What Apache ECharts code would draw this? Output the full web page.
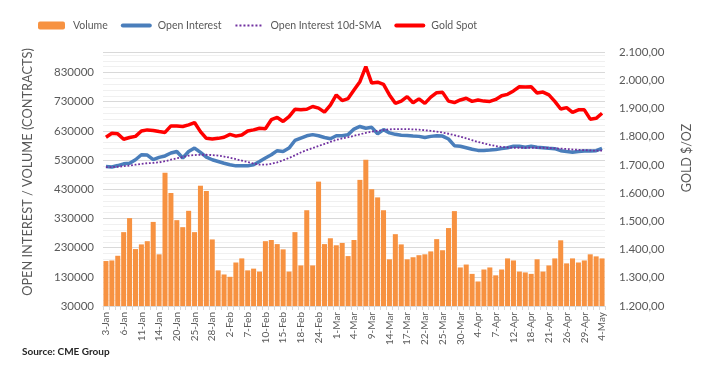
<!DOCTYPE html>
<html>
<head>
<meta charset="utf-8">
<script src="https://cdn.jsdelivr.net/npm/echarts@6/dist/echarts.min.js"></script>
<style>
  html, body { margin: 0; padding: 0; background: #fff; }
  #chart { width: 717px; height: 375px; }
</style>
</head>
<body>
<div id="chart"></div>
<script>
// trading days, 3-Jan to 4-May
var days = [
  '3-Jan','4-Jan','5-Jan','6-Jan','7-Jan','10-Jan','11-Jan','12-Jan','13-Jan','14-Jan',
  '18-Jan','19-Jan','20-Jan','21-Jan','24-Jan','25-Jan','26-Jan','27-Jan','28-Jan','31-Jan',
  '1-Feb','2-Feb','3-Feb','4-Feb','7-Feb','8-Feb','9-Feb','10-Feb','11-Feb','14-Feb',
  '15-Feb','16-Feb','17-Feb','18-Feb','22-Feb','23-Feb','24-Feb','25-Feb','28-Feb',
  '1-Mar','2-Mar','3-Mar','4-Mar','7-Mar','8-Mar','9-Mar','10-Mar','11-Mar','14-Mar',
  '15-Mar','16-Mar','17-Mar','18-Mar','21-Mar','22-Mar','23-Mar','24-Mar','25-Mar','28-Mar',
  '29-Mar','30-Mar','31-Mar',
  '1-Apr','4-Apr','5-Apr','6-Apr','7-Apr','8-Apr','11-Apr','12-Apr','13-Apr','14-Apr',
  '18-Apr','19-Apr','20-Apr','21-Apr','22-Apr','25-Apr','26-Apr','27-Apr','28-Apr','29-Apr',
  '2-May','3-May','4-May'
];

var volume = [
  184000, 186000, 202000, 283000, 331000, 225000, 241000, 252000, 318000, 207000,
  486000, 417000, 324000, 300000, 356000, 283000, 442000, 424000, 258000, 152000,
  138000, 130000, 179000, 193000, 152000, 158000, 148000, 252000, 256000, 242000,
  224000, 148000, 283000, 169000, 358000, 169000, 456000, 242000, 262000, 238000,
  246000, 201000, 256000, 462000, 531000, 430000, 402000, 358000, 190000, 276000,
  241000, 190000, 197000, 204000, 207000, 217000, 259000, 221000, 297000, 355000,
  162000, 172000, 140000, 114000, 155000, 162000, 135000, 155000, 193000, 186000,
  148000, 145000, 140000, 190000, 148000, 169000, 193000, 255000, 176000, 193000,
  179000, 186000, 207000, 200000, 193000
];

var openInterest = [
  508000, 506000, 511000, 517000, 519000, 531000, 548000, 547000, 531000, 539000,
  544000, 554000, 559000, 537000, 559000, 571000, 556000, 540000, 531000, 525000,
  519000, 514000, 510000, 510000, 510000, 514000, 525000, 537000, 548000, 562000,
  559000, 571000, 597000, 605000, 613000, 617000, 613000, 607000, 603000, 613000,
  613000, 617000, 636000, 645000, 639000, 642000, 620000, 634000, 623000, 618000,
  615000, 614000, 612000, 611000, 607000, 611000, 613000, 612000, 602000, 579000,
  577000, 572000, 567000, 563000, 563000, 564000, 566000, 569000, 572000, 577000,
  577000, 574000, 577000, 574000, 572000, 570000, 569000, 562000, 559000, 557000,
  559000, 561000, 561000, 562000, 570000
];

var oiSma = [
  506000, 506000, 507000, 509000, 511000, 514000, 517000, 519000, 520000, 522000,
  526000, 531000, 536000, 540000, 545000, 547000, 548000, 548000, 547000, 545000,
  542000, 538000, 533000, 528000, 523000, 518000, 514000, 514000, 517000, 522000,
  529000, 537000, 546000, 556000, 564000, 571000, 578000, 585000, 592000, 599000,
  604000, 608000, 613000, 618000, 623000, 627000, 630000, 633000, 635000, 636000,
  636000, 636000, 635000, 634000, 632000, 630000, 627000, 624000, 620000, 615000,
  610000, 604000, 598000, 592000, 587000, 582000, 578000, 575000, 573000, 572000,
  572000, 572000, 572000, 572000, 572000, 571000, 570000, 569000, 568000, 566000,
  565000, 564000, 563000, 562000, 562000
];

var goldSpot = [
  1798, 1812, 1810, 1791, 1797, 1801, 1820, 1824, 1822, 1818,
  1815, 1838, 1838, 1836, 1842, 1850, 1818, 1794, 1792, 1794,
  1798, 1808, 1802, 1806, 1820, 1824, 1830, 1828, 1860, 1868,
  1854, 1871, 1897, 1895, 1897, 1907, 1901, 1887, 1912, 1948,
  1928, 1935, 1965, 1995, 2048, 1990, 1993, 1985, 1948, 1918,
  1926, 1942, 1920, 1934, 1918, 1940, 1956, 1957, 1926, 1921,
  1930, 1936, 1925, 1930, 1926, 1925, 1932, 1945, 1950, 1962,
  1977, 1976, 1977, 1955, 1958, 1948, 1925, 1898, 1903, 1886,
  1895, 1895, 1862, 1865, 1883
];

function fmtGold(v) {
  var s = String(Math.round(v));
  return s.replace(/\B(?=(\d{3})+(?!\d))/g, '.') + ',00';
}

var myChart = echarts.init(document.getElementById('chart'));
var font = 'Lato, "Open Sans", sans-serif';

var option = {
  animation: false,
  textStyle: { fontFamily: font },
  legend: {
    left: 38,
    top: 20,
    padding: 0,
    itemWidth: 27,
    itemHeight: 8,
    itemGap: 13,
    textStyle: { color: '#595959', fontSize: 10.5, fontFamily: font, padding: [0, 0, 0, 3] },
    data: [
      { name: 'Volume' },
      { name: 'Open Interest', itemStyle: { opacity: 0 }, lineStyle: { width: 4, cap: 'round' } },
      { name: 'Open Interest 10d-SMA', itemStyle: { opacity: 0 }, lineStyle: { width: 2 } },
      { name: 'Gold Spot', itemStyle: { opacity: 0 }, lineStyle: { width: 4, cap: 'round' } }
    ]
  },
  grid: { left: 103, right: 112, top: 52, bottom: 69 },
  graphic: [{
    type: 'text', left: 22, top: 347,
    style: { text: 'Source: CME Group', fill: '#262626', font: 'bold 10px ' + font }
  }, {
    type: 'text', x: 28, y: 172, rotation: Math.PI / 2,
    style: { text: 'OPEN INTEREST / VOLUME (CONTRACTS)', fill: '#595959', font: '12.8px ' + font, align: 'center', verticalAlign: 'middle' }
  }, {
    type: 'text', x: 687, y: 158, rotation: Math.PI / 2,
    style: { text: 'GOLD $/OZ', fill: '#595959', font: '12.5px ' + font, align: 'center', verticalAlign: 'middle' }
  }],
  xAxis: {
    type: 'category',
    data: days,
    axisLine: { lineStyle: { color: '#d9d9d9' } },
    axisTick: { show: true, interval: 0, length: 4, lineStyle: { color: '#d9d9d9' } },
    axisLabel: { interval: 2, rotate: 90, fontSize: 10, color: '#595959', margin: 6 }
  },
  yAxis: [{
    type: 'value',
    min: 30000, max: 900000, interval: 100000,
    axisLine: { show: false }, axisTick: { show: false },
    axisLabel: { color: '#595959', fontSize: 11.5, showMaxLabel: false, margin: 9,
      formatter: function (v) { return String(v); } },
    splitLine: { lineStyle: { color: '#d9d9d9' } },
    minorTick: { show: false, splitNumber: 5 },
    minorSplitLine: { show: true, lineStyle: { color: '#f0f0f0' } }
  }, {
    type: 'value',
    min: 1200, max: 2100, interval: 100,
    axisLine: { show: false }, axisTick: { show: false },
    axisLabel: { color: '#595959', fontSize: 11.5, margin: 14, formatter: fmtGold },
    splitLine: { show: false }
  }],
  series: [{
    name: 'Volume',
    type: 'bar',
    data: volume,
    barCategoryGap: '15%',
    itemStyle: { color: '#f79241' }
  }, {
    name: 'Open Interest',
    type: 'line',
    data: openInterest,
    symbol: 'none',
    lineStyle: { color: '#4a7ebb', width: 3.5 },
    itemStyle: { color: '#4a7ebb' }
  }, {
    name: 'Open Interest 10d-SMA',
    type: 'line',
    data: oiSma,
    symbol: 'none',
    lineStyle: { color: '#7030a0', width: 1.8, type: 'dotted' },
    itemStyle: { color: '#7030a0' }
  }, {
    name: 'Gold Spot',
    type: 'line',
    yAxisIndex: 1,
    data: goldSpot,
    symbol: 'none',
    lineStyle: { color: '#ff0000', width: 3.5 },
    itemStyle: { color: '#ff0000' }
  }]
};

myChart.setOption(option);
</script>
</body>
</html>
